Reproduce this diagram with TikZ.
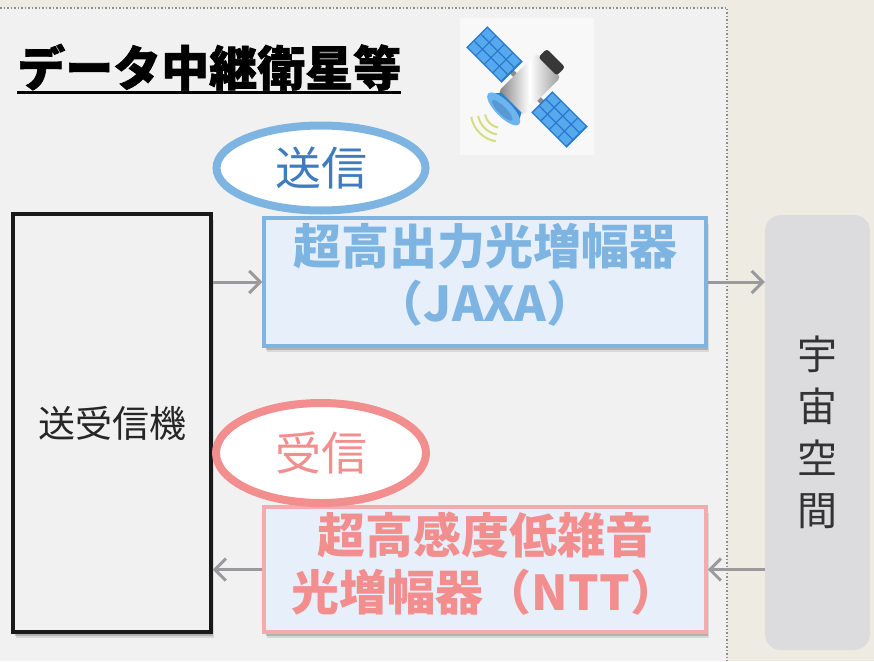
\documentclass[tikz,border=0pt]{standalone}
\usepackage{fontspec}
\newfontfamily\jp{Noto Sans CJK JP}
\newfontfamily\jpheavy[BoldFeatures={FakeBold=1.3}]{Noto Sans CJK JP}
\usetikzlibrary{arrows.meta,shadows,shapes.geometric}

\definecolor{bgbeige}{HTML}{EDEBE2}
\definecolor{panelgray}{HTML}{F1F1F1}
\definecolor{dotgray}{HTML}{8E8E8E}
\definecolor{sendblue}{HTML}{7DB4E2}
\definecolor{sendtext}{HTML}{3E7CC0}
\definecolor{boxfill}{HTML}{E7F0FA}
\definecolor{recvpink}{HTML}{F28E8E}
\definecolor{recvborder}{HTML}{F5ABAD}
\definecolor{arrowgray}{HTML}{9A9A9C}
\definecolor{spacegray}{HTML}{DCDCDF}
\definecolor{iconbg}{HTML}{F8F8F8}
\definecolor{panelblue}{HTML}{2A78CF}
\definecolor{cellblue}{HTML}{55A9EC}
\definecolor{dishblue}{HTML}{2F7FCB}
\definecolor{dishlight}{HTML}{6DB5EE}
\definecolor{wave}{HTML}{D6DD7E}

\begin{document}
\begin{tikzpicture}[x=1pt,y=-1pt,
  titletext/.style={inner sep=0pt, font=\jpheavy\bfseries\fontsize{48}{48}\selectfont},
  softshadow/.style={
    drop shadow={shadow xshift=3pt, shadow yshift=-6pt, opacity=0.10, fill=black},
    drop shadow={shadow xshift=2pt, shadow yshift=-4pt, opacity=0.18, fill=black}},
  txrxbox/.style={draw=black!90, line width=3.5pt, fill=panelgray, minimum width=198pt,
    minimum height=418pt, inner sep=0pt, softshadow,
    font=\jp\fontsize{37}{37}\selectfont, text=black!85},
  ampbox/.style={line width=3.5pt, fill=boxfill, minimum width=442pt, inner sep=0pt, softshadow},
  amptext/.style={align=center, inner sep=0pt, font=\jp\bfseries\fontsize{48}{57}\selectfont},
  spacebox/.style={fill=spacegray, rounded corners=16pt, minimum width=105pt, minimum height=435pt,
    inner sep=0pt, align=center, text=black!80, font=\jp\fontsize{40}{52}\selectfont},
  tag/.style={ellipse, line width=8pt, fill=white, inner sep=0pt, font=\jp\fontsize{46}{46}\selectfont},
  arr/.style={draw=arrowgray, line width=3pt, -{Straight Barb[length=11pt,width=22pt]}}
]
\useasboundingbox (0,0) rectangle (874,661);
\fill[bgbeige] (0,0) rectangle (874,661);

% satellite panel area with dotted frame
\fill[panelgray] (0,8) rectangle (727,661);
\draw[dotgray, line width=1.5pt, dotted] (0,8) -- (727,8) -- (727,661);

% heading
\node[titletext, anchor=base west] (title) at (17,86) {データ中継衛星等};
\draw[line width=3pt] ([yshift=-6pt]title.base west) -- ([yshift=-6pt]title.base east);

% satellite icon
\fill[iconbg] (460,18) rectangle (594,155);
\begin{scope}[shift={(527,87)}, rotate=-45]
  \fill[black!45] (-22,-2.5) rectangle (22,2.5);
  \foreach \px in {-71,21} {
    \fill[panelblue] (\px,-15) rectangle ++(50,30);
    \foreach \i in {0,...,3} \foreach \j in {0,1,2}
      \fill[cellblue] (\px+1.5+\i*12,-13.5+\j*9.5) rectangle ++(10.5,8);
  }
  \shade[left color=black!50, right color=black!40, middle color=white, rounded corners=4pt]
    (-17,-31) rectangle (17,24);
  \fill[black!78, rounded corners=3pt] (-13,-41) rectangle (13,-29);
  \fill[dishblue] (-14,22) -- (14,22) -- (20,32) -- (-22,32) -- cycle;
  \fill[dishlight] (-1,32) ellipse [x radius=22, y radius=8];
  \fill[dishblue!80] (-1,34) ellipse [x radius=14, y radius=4];
  \foreach \r in {16,23,30}
    \draw[wave, line width=2pt] ([shift={(55:\r)}]-1,36) arc[start angle=55, end angle=125, radius=\r];
\end{scope}

% blocks
\node[txrxbox] (txrx) at (112,423) {送受信機};
\node[ampbox, draw=sendblue, minimum height=128pt] (amp1) at (485,282) {};
\node[amptext, text=sendblue] (amp1text) at (485,275) {超高出力光増幅器\\（JAXA）};
\node[ampbox, draw=recvborder, minimum height=125pt] (amp2) at (485,569.5) {};
\node[amptext, text=recvpink] (amp2text) at (485,564) {超高感度低雑音\\光増幅器（NTT）};
\node[spacebox] (space) at (817.5,432.5) {宇\\宙\\空\\間};

% direction tags
\node[tag, draw=sendblue, text=sendtext, minimum width=209pt, minimum height=85pt] (sendtag) at (321,168) {送信};
\node[tag, draw=recvpink, text=recvpink, minimum width=210pt, minimum height=100pt] (recvtag) at (321,453) {受信};

% signal paths
\draw[arr] (txrx.east |- amp1.west) -- (amp1.west);
\draw[arr] (amp1.east) -- (space.west |- amp1.east);
\draw[arr] (space.west |- amp2.east) -- (amp2.east);
\draw[arr] (amp2.west) -- (txrx.east |- amp2.west);
\end{tikzpicture}
\end{document}
